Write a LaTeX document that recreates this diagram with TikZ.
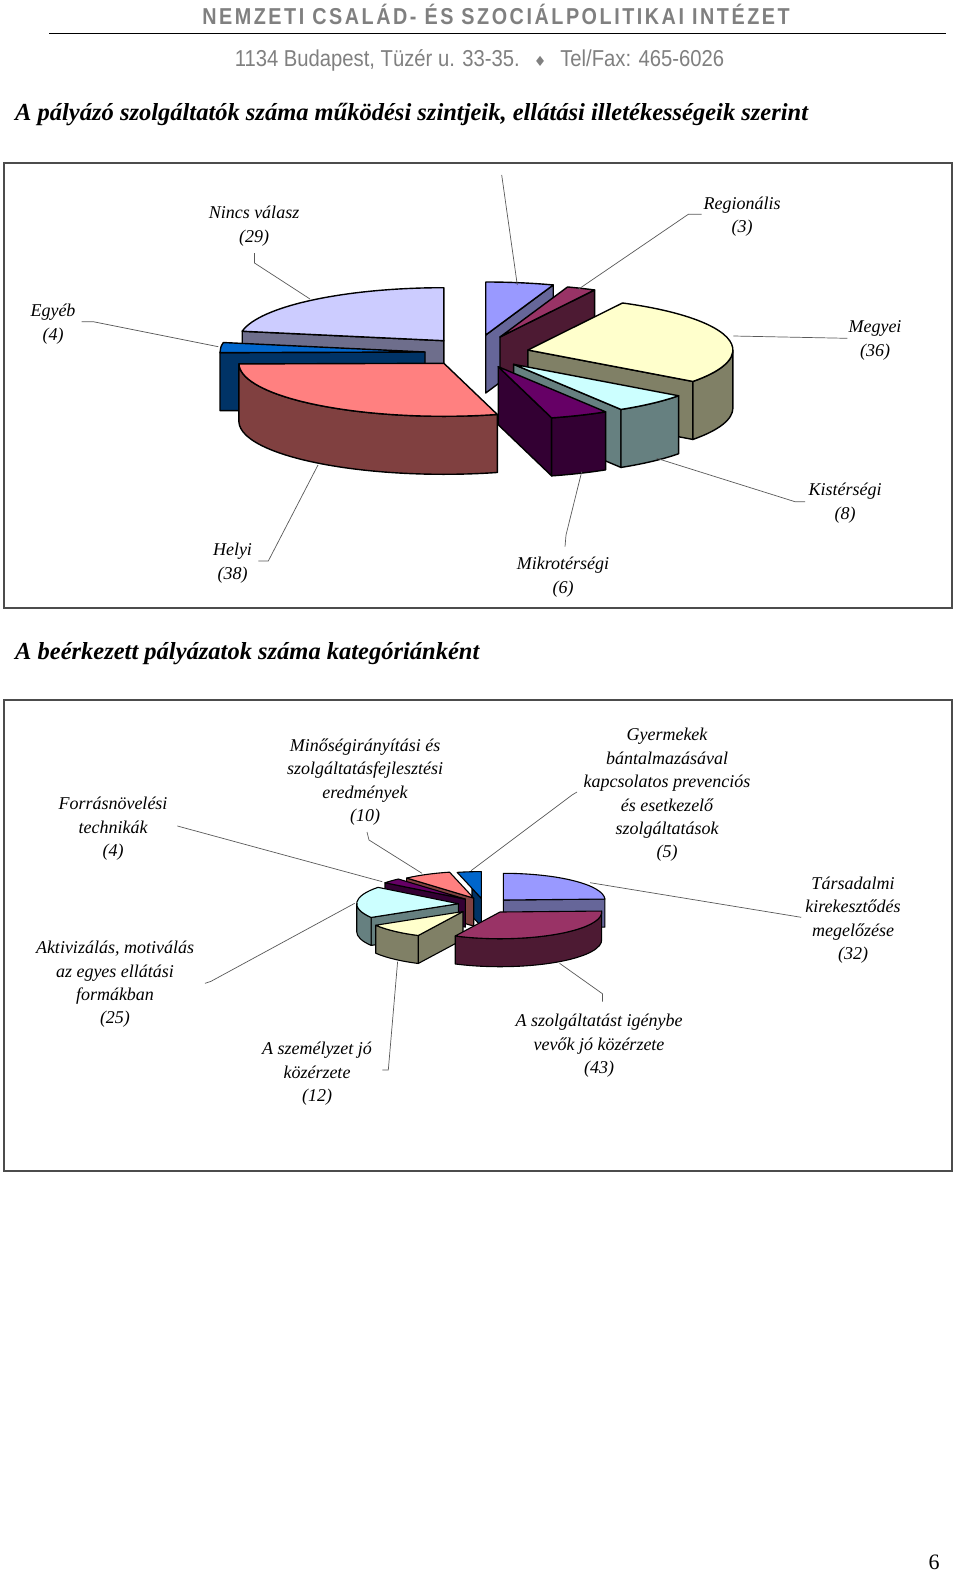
\documentclass[tikz,border=0pt]{standalone}
\usepackage{fontspec}
\setmainfont{Liberation Serif}
\newfontfamily\headfont[FakeStretch=0.86,LetterSpace=11]{Liberation Sans}
\newfontfamily\addrfont[FakeStretch=0.88]{Liberation Sans}
\newfontfamily\symfont{DejaVu Sans}

\definecolor{pviolet}{HTML}{9999FF}  \definecolor{pvioletd}{HTML}{666699}
\definecolor{pplum}{HTML}{993366}    \definecolor{pplumd}{HTML}{4D1A33}
\definecolor{pivory}{HTML}{FFFFCC}   \definecolor{pivoryd}{HTML}{808066}
\definecolor{pcyan}{HTML}{CCFFFF}    \definecolor{pcyand}{HTML}{668080}
\definecolor{ppurple}{HTML}{660066}  \definecolor{ppurpled}{HTML}{330033}
\definecolor{psalmon}{HTML}{FF8080}  \definecolor{psalmond}{HTML}{804040}
\definecolor{pblue}{HTML}{0066CC}    \definecolor{pblued}{HTML}{003366}
\definecolor{plilac}{HTML}{CCCCFF}   \definecolor{plilacd}{HTML}{6E6E8C}

\newcommand\lblfont{\itshape\fontsize{18}{23.4}\selectfont}
\newcommand\ttlfont{\bfseries\itshape\fontsize{24.5}{28}\selectfont}

% pie pieces: radii and depth, then apex, angles, colour
\newcommand\pieset[3]{\def\prx{#1}\def\pry{#2}\def\pdp{#3}}
\newcommand\pietop[4]{\filldraw[slice, fill=#4] (#1) -- ++({\prx*cos(#2)},{\pry*sin(#2)})
  arc[start angle=#2, end angle=#3, x radius=\prx, y radius=\pry] -- cycle;}
\newcommand\pierim[4]{\filldraw[slice, fill=#4] (#1) ++({\prx*cos(#2)},{\pry*sin(#2)})
  arc[start angle=#2, end angle=#3, x radius=\prx, y radius=\pry] -- ++(0,\pdp)
  arc[start angle=#3, end angle=#2, x radius=\prx, y radius=\pry] -- cycle;}
\newcommand\pieside[3]{\filldraw[slice, fill=#3] (#1) -- ++({\prx*cos(#2)},{\pry*sin(#2)})
  -- ++(0,\pdp) -- ++({-\prx*cos(#2)},{-\pry*sin(#2)}) -- cycle;}

\begin{document}
\begin{tikzpicture}[x=1pt, y=-1pt,
  slice/.style={draw=black, line width=1.4pt, line join=round},
  leader/.style={draw=black!65, line width=0.7pt},
  lbl/.style={font=\lblfont, align=center, inner sep=0pt},
  frame/.style={draw=black!70, line width=1.2pt}]
\useasboundingbox[fill=white] (0,0) rectangle (960,1574);

% header
\node[anchor=base, text=black!50, inner sep=0pt] (head) at (496,24.5)
  {\headfont\bfseries\fontsize{23}{26}\selectfont NEMZETI CSALÁD- ÉS SZOCIÁLPOLITIKAI INTÉZET};
\draw[line width=1.5pt] (49,33.5) -- (946,33.5);
\node[anchor=base, text=black!50, inner sep=0pt] (addr) at (479.5,66)
  {\addrfont\fontsize{23}{26}\selectfont 1134 Budapest, Tüzér u. 33-35.\hspace{14pt}{\symfont\fontsize{14}{14}\selectfont ♦}\hspace{14pt}Tel/Fax: 465-6026};

\node[anchor=base west, inner sep=0pt] (title1) at (15,120)
  {\ttlfont A pályázó szolgáltatók száma működési szintjeik, ellátási illetékességeik szerint};

% first chart
\draw[frame] (4,163) rectangle (952,608);
\pieset{205}{53}{58}
\coordinate (nolabel) at (485.7,335);
\coordinate (regio) at (500,337);
\coordinate (megye) at (527.9,350);
\coordinate (kister) at (513.6,364.3);
\coordinate (mikro) at (498.2,366.7);
\coordinate (helyi) at (443.9,363.3);
\coordinate (egyeb) at (425,352);
\coordinate (nincs) at (443.9,340.7);

\pieside{nincs}{190.3}{plilacd}
\pietop{nincs}{190.3}{270}{plilac}
\pieside{nolabel}{-70.76}{pvioletd}
\pietop{nolabel}{-90}{-70.76}{pviolet}
\pieside{regio}{-62.52}{pplumd}
\pietop{regio}{-70.76}{-62.52}{pplum}
\pieside{egyeb}{179.31}{pblued}
\pietop{egyeb}{179.31}{190.3}{pblue}
\pieside{megye}{36.41}{pivoryd}
\pierim{megye}{0}{36.41}{pivoryd}
\pietop{megye}{-62.52}{36.41}{pivory}
\pieside{kister}{58.4}{pcyand}
\pierim{kister}{36.41}{58.4}{pcyand}
\pietop{kister}{36.41}{58.4}{pcyan}
\pieside{mikro}{74.89}{ppurpled}
\pierim{mikro}{58.4}{74.89}{ppurpled}
\pietop{mikro}{58.4}{74.89}{ppurple}
\pierim{helyi}{74.89}{179.31}{psalmond}
\pietop{helyi}{74.89}{179.31}{psalmon}

\node[lbl] (nincsL) at (254,226) {Nincs válasz\\(29)};
\node[lbl] (regioL) at (742,216.5) {Regionális\\(3)};
\node[lbl] (megyeL) at (875,340.3) {Megyei\\(36)};
\node[lbl] (kisterL) at (845,503) {Kistérségi\\(8)};
\node[lbl] (mikroL) at (563,577) {Mikrotérségi\\(6)};
\node[lbl] (helyiL) at (232.5,563) {Helyi\\(38)};
\node[lbl] (egyebL) at (53,324) {Egyéb\\(4)};

\coordinate (nolabelA) at (501.7,175);   \coordinate (nolabelB) at (517.3,285);
\coordinate (nincsA) at (254.5,253);     \coordinate (nincsB) at (310,299);
\coordinate (regioA) at (701.7,214.3);   \coordinate (regioB) at (578.3,289.3);
\coordinate (megyeA) at (847.3,338.3);   \coordinate (megyeB) at (733.3,336);
\coordinate (kisterA) at (805,501.7);    \coordinate (kisterB) at (656.7,458.3);
\coordinate (mikroA) at (565,546.7);     \coordinate (mikroB) at (581.7,471.7);
\coordinate (helyiA) at (258.3,561);     \coordinate (helyiB) at (318,465);
\coordinate (egyebA) at (81.7,321.7);    \coordinate (egyebB) at (218.3,346.7);
\draw[leader] (nolabelA) -- (nolabelB);
\draw[leader] (nincsA) -- ++(0,10) -- (nincsB);
\draw[leader] (regioA) -- ++(-13.4,0) -- (regioB);
\draw[leader] (megyeA) -- (megyeB);
\draw[leader] (kisterA) -- ++(-10,0) -- (kisterB);
\draw[leader] (mikroA) -- ++(1,-11.7) -- (mikroB);
\draw[leader] (helyiA) -- ++(10,0) -- (helyiB);
\draw[leader] (egyebA) -- ++(11.6,0) -- (egyebB);

\node[anchor=base west, inner sep=0pt] (title2) at (15,659)
  {\ttlfont A beérkezett pályázatok száma kategóriánként};

% second chart
\draw[frame] (4,700) rectangle (952,1171);
\begin{scope}[slice/.append style={line width=1.1pt}]
\pieset{101.7}{26.7}{28}
\coordinate (tars) at (503.3,900);
\coordinate (igeny) at (500,912);
\coordinate (szemely) at (463,911.5);
\coordinate (aktiv) at (458.4,903.7);
\coordinate (forras) at (465.4,899.1);
\coordinate (minoseg) at (473.7,898.1);
\coordinate (gyermek) at (481.3,898.3);

\pieside{tars}{-2.06}{pvioletd}
\pietop{tars}{-90}{-2.06}{pviolet}
\filldraw[slice, fill=pblued] (472,888.4) -- (gyermek) -- ++(0,28) -- (472,916.4) -- cycle;
\pietop{gyermek}{256.26}{270}{pblue}
\pieside{minoseg}{228.78}{psalmond}
\pietop{minoseg}{228.78}{256.26}{psalmon}
\pieside{forras}{217.79}{ppurpled}
\pietop{forras}{217.79}{228.78}{ppurple}
\pieside{aktiv}{149.08}{pcyand}
\pierim{aktiv}{149.08}{180}{pcyand}
\pietop{aktiv}{149.08}{217.79}{pcyan}
\pieside{szemely}{116.11}{pivoryd}
\pierim{szemely}{116.11}{149.08}{pivoryd}
\pietop{szemely}{116.11}{149.08}{pivory}
\pierim{igeny}{-2.06}{116.11}{pplumd}
\pietop{igeny}{-2.06}{116.11}{pplum}
\end{scope}

\node[lbl] (forrasL) at (113,829) {Forrásnövelési\\technikák\\(4)};
\node[lbl] (minosegL) at (365,782) {Minőségirányítási és\\szolgáltatásfejlesztési\\eredmények\\(10)};
\node[lbl] (gyermekL) at (667,795) {Gyermekek\\bántalmazásával\\kapcsolatos prevenciós\\és esetkezelő\\szolgáltatások\\(5)};
\node[lbl] (tarsL) at (853,920) {Társadalmi\\kirekesztődés\\megelőzése\\(32)};
\node[lbl] (igenyL) at (599,1046) {A szolgáltatást igénybe\\vevők jó közérzete\\(43)};
\node[lbl] (szemelyL) at (317,1074) {A személyzet jó\\közérzete\\(12)};
\node[lbl] (aktivL) at (115,984.5) {Aktivizálás, motiválás\\az egyes ellátási\\formákban\\(25)};

\coordinate (forrasA) at (177.4,826);   \coordinate (forrasB) at (382.3,881.7);
\coordinate (minosegA) at (367,832);    \coordinate (minosegB) at (422,873.3);
\coordinate (gyermekA) at (577,792);    \coordinate (gyermekB) at (471,870.7);
\coordinate (tarsA) at (801.2,917.3);   \coordinate (tarsB) at (590.2,882.7);
\coordinate (igenyA) at (602.4,1001.7); \coordinate (igenyB) at (559.6,963.3);
\coordinate (szemelyA) at (382.3,1070); \coordinate (szemelyB) at (397.6,961.7);
\coordinate (aktivA) at (205,983.3);    \coordinate (aktivB) at (354.7,903.3);
\draw[leader] (forrasA) -- (forrasB);
\draw[leader] (minosegA) -- ++(2,8) -- (minosegB);
\draw[leader] (gyermekA) -- ++(-5,3) -- (gyermekB);
\draw[leader] (tarsA) -- (tarsB);
\draw[leader] (igenyA) -- ++(0,-8) -- (igenyB);
\draw[leader] (szemelyA) -- ++(6,0) -- (szemelyB);
\draw[leader] (aktivA) -- ++(6,-2) -- (aktivB);

\node[anchor=base, inner sep=0pt] (pagenum) at (934,1569) {\fontsize{22}{24}\selectfont 6};
\end{tikzpicture}
\end{document}
